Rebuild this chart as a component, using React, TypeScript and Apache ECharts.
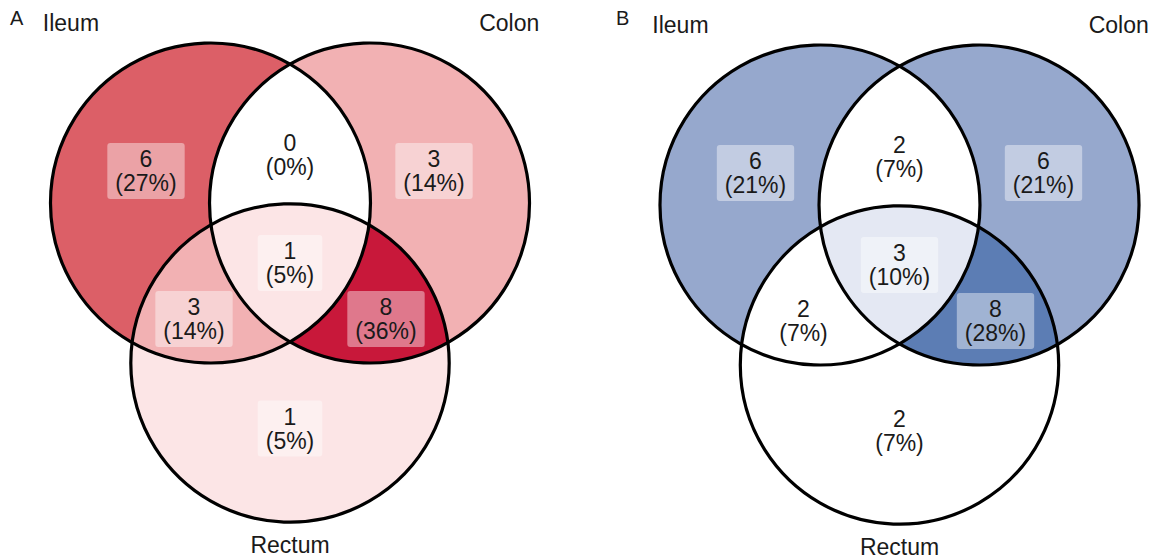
import React, { useEffect, useRef } from "react";
import * as echarts from "echarts";

// ---------- data ----------
const panelLetters = ["A", "B"];
const setNames = ["Ileum", "Colon", "Rectum"];
const regionNames = [
  "Ileum only",
  "Colon only",
  "Rectum only",
  "Ileum & Colon",
  "Ileum & Rectum",
  "Colon & Rectum",
  "Ileum & Colon & Rectum",
];
const regionMembership = [
  [1, 0, 0],
  [0, 1, 0],
  [0, 0, 1],
  [1, 1, 0],
  [1, 0, 1],
  [0, 1, 1],
  [1, 1, 1],
];
const countsA = [6, 3, 1, 0, 3, 8, 1];
const countsB = [6, 6, 2, 2, 2, 8, 3];

// ---------- layout (data units: circle radius = 1) ----------
const circleCenters = [
  [-0.497, 0],
  [0.497, 0],
  [0, 1.0],
];
const circleRadii = [1, 1, 0.995];
const regionLabelPos = [
  [-0.9, -0.2],
  [0.9, -0.2],
  [0, 1.41],
  [0, -0.3],
  [-0.6, 0.725],
  [0.6, 0.725],
  [0, 0.375],
];
const setLabelPos = [
  [-1.545, -1.125],
  [1.558, -1.125],
  [0, 2.135],
];
const setLabelAlign = ["left", "right", "center"];
const letterLeft = [10, 616];
const colorsA = ["#FFFFFF", "#F8CBCC", "#EC9699", "#DC5F67", "#C8183A"];
const colorsB = ["#FFFFFF", "#C8D1E6", "#96A8CD", "#5C7DB4"];
const FONT = '"Liberation Sans", Arial, Helvetica, sans-serif';
const TEXT_COLOR = "#1a1a1a";

// ---------- geometry ----------
type P = [number, number];
const inside = (p: number[], k: number) =>
  Math.hypot(p[0] - circleCenters[k][0], p[1] - circleCenters[k][1]) < circleRadii[k] - 1e-9;

function intersections(i: number, j: number): P[] {
  const c1 = circleCenters[i], c2 = circleCenters[j];
  const r1 = circleRadii[i], r2 = circleRadii[j];
  const dx = c2[0] - c1[0], dy = c2[1] - c1[1];
  const d = Math.hypot(dx, dy);
  const a = (r1 * r1 - r2 * r2 + d * d) / (2 * d);
  const h = Math.sqrt(Math.max(0, r1 * r1 - a * a));
  const mx = c1[0] + (a * dx) / d, my = c1[1] + (a * dy) / d;
  return [
    [mx + (h * dy) / d, my - (h * dx) / d],
    [mx - (h * dy) / d, my + (h * dx) / d],
  ];
}

const pts: Record<string, P> = {};
[[0, 1, 2], [0, 2, 1], [1, 2, 0]].forEach(([i, j, k]) => {
  const ps = intersections(i, j);
  ps.forEach((p) => {
    pts[`${i}${j}${inside(p, k) ? "i" : "o"}`] = p;
  });
});

const boundaries: [number, string, string][][] = [
  [[0, "01o", "02o"], [2, "02o", "12i"], [1, "12i", "01o"]],
  [[1, "01o", "12o"], [2, "12o", "02i"], [0, "02i", "01o"]],
  [[2, "02o", "12o"], [1, "12o", "01i"], [0, "01i", "02o"]],
  [[0, "01o", "02i"], [2, "02i", "12i"], [1, "12i", "01o"]],
  [[0, "01i", "02o"], [2, "02o", "12i"], [1, "12i", "01i"]],
  [[1, "01i", "12o"], [2, "12o", "02i"], [0, "02i", "01i"]],
  [[0, "02i", "01i"], [1, "01i", "12i"], [2, "12i", "02i"]],
];

function arcPoints(k: number, p1: P, p2: P, m: number[]): P[] {
  const c = circleCenters[k], r = circleRadii[k];
  const t1 = Math.atan2(p1[1] - c[1], p1[0] - c[0]);
  const t2 = Math.atan2(p2[1] - c[1], p2[0] - c[0]);
  let d = t2 - t1;
  while (d < 0) d += Math.PI * 2;
  while (d >= Math.PI * 2) d -= Math.PI * 2;
  const cond = (p: number[]) =>
    [0, 1, 2].every((j) => j === k || inside(p, j) === !!m[j]);
  let chosen = d;
  for (const delta of [d, d - Math.PI * 2]) {
    const tm = t1 + delta / 2;
    if (cond([c[0] + r * Math.cos(tm), c[1] + r * Math.sin(tm)])) {
      chosen = delta;
      break;
    }
  }
  const n = 90;
  const out: P[] = [];
  for (let s = 0; s < n; s++) {
    const t = t1 + (chosen * s) / n;
    out.push([c[0] + r * Math.cos(t), c[1] + r * Math.sin(t)]);
  }
  return out;
}

const regionPolys: P[][] = boundaries.map((b, ri) =>
  b.flatMap(([k, a, z]) => arcPoints(k, pts[a], pts[z], regionMembership[ri]))
);

function regionData(counts: number[]) {
  const total = counts.reduce((s, v) => s + v, 0);
  return counts.map((v, i) => ({
    name: regionNames[i],
    value: [regionLabelPos[i][0], regionLabelPos[i][1], v, Math.round((v / total) * 100)],
  }));
}

const renderRegion = (params: any, api: any) => {
  const idx = params.dataIndex;
  const poly = regionPolys[idx].map((p) => api.coord(p));
  const c = api.coord([api.value(0), api.value(1)]);
  return {
    type: "group",
    children: [
      {
        type: "polygon",
        shape: { points: poly },
        style: { fill: api.visual("color"), stroke: null, lineWidth: 0 },
      },
      {
        type: "text",
        x: c[0],
        y: c[1],
        z2: 10,
        style: {
          text: `${api.value(2)}\n(${api.value(3)}%)`,
          fill: TEXT_COLOR,
          fontSize: 23,
          fontFamily: FONT,
          lineHeight: 24,
          align: "center",
          verticalAlign: "middle",
          backgroundColor: "rgba(255,255,255,0.42)",
          padding: [4, 8],
          borderRadius: 3,
        },
      },
    ],
  };
};

const renderOutline = (params: any, api: any) => {
  const idx = params.dataIndex;
  const c = api.coord([api.value(0), api.value(1)]);
  const r = api.size([circleRadii[idx], 0])[0];
  const lp = api.coord(setLabelPos[idx]);
  return {
    type: "group",
    children: [
      {
        type: "circle",
        shape: { cx: c[0], cy: c[1], r },
        style: { fill: "none", stroke: "#000", lineWidth: 3.2 },
      },
      {
        type: "text",
        x: lp[0],
        y: lp[1],
        style: {
          text: setNames[idx],
          fill: TEXT_COLOR,
          fontSize: 23,
          fontFamily: FONT,
          align: setLabelAlign[idx],
          verticalAlign: "middle",
        },
      },
    ],
  };
};

const outlineData = setNames.map((n, i) => ({ name: n, value: [circleCenters[i][0], circleCenters[i][1]] }));

export default function App() {
  const ref = useRef<HTMLDivElement>(null);
  useEffect(() => {
    if (!ref.current) return;
    const chart = echarts.init(ref.current, null, { renderer: "svg" });
    const xr = { type: "value", min: -1.75, max: 1.6, show: false };
    const yr = { type: "value", min: -1.15, max: 2.2, inverse: true, show: false };
    chart.setOption({
      animation: false,
      backgroundColor: "#ffffff",
      title: panelLetters.map((t, i) => ({
        text: t,
        left: letterLeft[i],
        top: 7,
        padding: 0,
        textStyle: {
          fontSize: 20,
          fontWeight: "normal",
          fontFamily: FONT,
          color: TEXT_COLOR,
          lineHeight: 22,
        },
      })),
      grid: [
        { left: 10, top: 19, width: 536, height: 536 },
        { left: 619.5, top: 21, width: 536, height: 536 },
      ],
      xAxis: [
        { ...xr, gridIndex: 0 },
        { ...xr, gridIndex: 1 },
      ],
      yAxis: [
        { ...yr, gridIndex: 0 },
        { ...yr, gridIndex: 1 },
      ],
      visualMap: [
        {
          type: "continuous",
          show: false,
          seriesIndex: 0,
          dimension: 2,
          min: Math.min(...countsA),
          max: Math.max(...countsA),
          inRange: { color: colorsA },
        },
        {
          type: "continuous",
          show: false,
          seriesIndex: 1,
          dimension: 2,
          min: Math.min(...countsB),
          max: Math.max(...countsB),
          inRange: { color: colorsB },
        },
      ],
      series: [
        { type: "custom", name: "A regions", xAxisIndex: 0, yAxisIndex: 0, clip: false, encode: { x: 0, y: 1 }, data: regionData(countsA), renderItem: renderRegion },
        { type: "custom", name: "B regions", xAxisIndex: 1, yAxisIndex: 1, clip: false, encode: { x: 0, y: 1 }, data: regionData(countsB), renderItem: renderRegion },
        { type: "custom", name: "A sets", xAxisIndex: 0, yAxisIndex: 0, clip: false, z: 5, encode: { x: 0, y: 1 }, data: outlineData, renderItem: renderOutline },
        { type: "custom", name: "B sets", xAxisIndex: 1, yAxisIndex: 1, clip: false, z: 5, encode: { x: 0, y: 1 }, data: outlineData, renderItem: renderOutline },
      ],
    });
    return () => chart.dispose();
  }, []);
  return (
    <div
      ref={ref}
      style={{ position: "fixed", left: 0, top: 0, width: 1161, height: 560, background: "#fff" }}
    />
  );
}
